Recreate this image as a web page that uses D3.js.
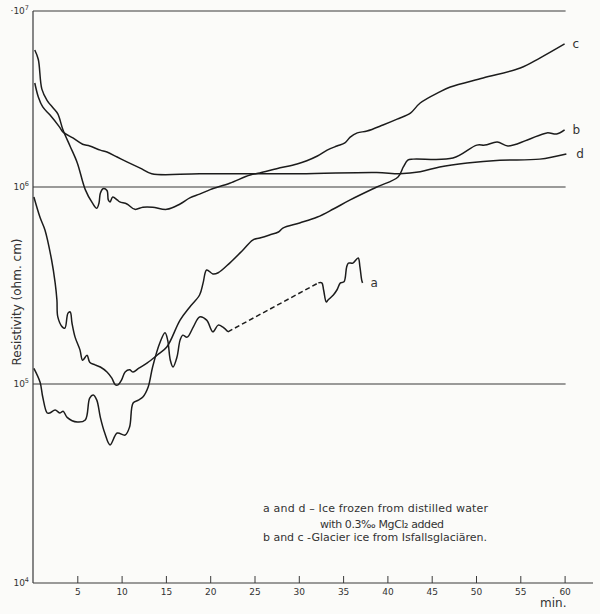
<!DOCTYPE html>
<html>
<head>
<meta charset="utf-8">
<script src="https://cdn.jsdelivr.net/npm/d3@7"></script>
<style>
  body { margin: 0; background: #fbfbf9; }
  svg { display: block; }
  text { font-family: "DejaVu Sans", sans-serif; fill: #333; }
</style>
</head>
<body>
<div class="chart"></div>
<script>
// Data (minutes, resistivity in ohm.cm)
const cMin = [0.2,0.6,1.0,1.6,2.3,2.8,3.4,4.2,5.0,5.9,6.7,7.2,7.45,7.6,7.9,8.35,8.5,8.7,9.0,9.5,9.8,10.6,11.5,12.4,13.5,15.1,16.6,17.7,18.8,20.0,22.2,24.5,25.6,27.5,29.8,30.9,32.1,33.2,34.3,35.2,35.8,36.6,37.7,39.5,41.1,42.6,43.7,45.9,47.1,50.8,55.0,57.2,60.0];
const cVal = [6.0e6,5.3e6,3.6e6,3.1e6,2.8e6,2.6e6,2.1e6,1.7e6,1.37e6,9.7e5,8.3e5,7.8e5,8.3e5,9.3e5,9.8e5,9.6e5,8.6e5,8.4e5,8.9e5,8.6e5,8.4e5,8.2e5,7.7e5,7.9e5,7.9e5,7.7e5,8.2e5,8.8e5,9.2e5,9.7e5,1.05e6,1.17e6,1.2e6,1.27e6,1.35e6,1.41e6,1.5e6,1.62e6,1.71e6,1.78e6,1.92e6,2.03e6,2.08e6,2.25e6,2.43e6,2.63e6,3.0e6,3.47e6,3.7e6,4.16e6,4.74e6,5.4e6,6.5e6];

const dMin = [0.2,0.6,1.1,1.9,3.0,3.4,4.5,5.6,6.4,7.6,8.35,9.5,10.6,12.1,13.4,18.8,30.1,38.8,41.4,43.7,45.9,49.0,52.7,57.2,60.2];
const dVal = [3.9e6,3.25e6,2.85e6,2.57e6,2.19e6,2.05e6,1.9e6,1.75e6,1.71e6,1.62e6,1.58e6,1.48e6,1.39e6,1.28e6,1.19e6,1.19e6,1.19e6,1.21e6,1.19e6,1.22e6,1.3e6,1.37e6,1.42e6,1.44e6,1.54e6];

const bMin = [0.1,0.8,1.35,2.1,2.5,2.7,2.8,3.3,3.6,3.95,4.2,4.4,4.75,5.3,5.6,6.1,6.4,7.0,7.6,8.35,8.9,9.3,9.6,10.0,10.4,10.9,11.3,11.9,12.9,14.0,15.1,16.6,17.7,18.8,19.2,19.6,20.3,20.9,22.2,23.7,24.8,25.6,26.7,27.7,28.2,30.1,32.1,33.9,35.8,38.8,41.2,41.8,42.3,42.9,47.4,50.1,51.0,52.4,53.6,55.8,58.0,59.1,60.0];
const bVal = [8.9e5,7.0e5,6.05e5,4.26e5,3.26e5,2.67e5,2.19e5,1.95e5,1.92e5,2.29e5,2.32e5,2.04e5,1.73e5,1.49e5,1.32e5,1.4e5,1.29e5,1.25e5,1.22e5,1.15e5,1.07e5,9.9e4,9.9e4,1.05e5,1.15e5,1.18e5,1.15e5,1.2e5,1.28e5,1.4e5,1.54e5,2.11e5,2.46e5,2.83e5,3.26e5,3.79e5,3.62e5,3.67e5,4.11e5,4.79e5,5.38e5,5.51e5,5.71e5,5.91e5,6.19e5,6.57e5,7.04e5,7.73e5,8.6e5,1.0e6,1.14e6,1.3e6,1.42e6,1.44e6,1.46e6,1.73e6,1.73e6,1.8e6,1.71e6,1.85e6,2.03e6,2.0e6,2.11e6];

const aMin = [0.1,0.8,1.1,1.6,1.9,2.5,3.05,3.4,3.85,5.0,5.9,6.4,6.8,7.2,7.6,8.1,8.7,9.5,10.4,10.9,11.3,11.9,12.4,13.0,13.5,14.3,14.9,15.2,15.5,15.8,16.25,16.6,16.9,17.4,18.1,18.8,19.6,20.3,20.9,21.4,22.0];
const aVal = [1.2e5,1.02e5,8.6e4,7.15e4,7.15e4,7.4e4,7.15e4,7.3e4,6.8e4,6.44e4,6.6e4,8.5e4,8.8e4,8.3e4,6.8e4,5.67e4,4.94e4,5.67e4,5.54e4,6.08e4,8.03e4,8.3e4,8.6e4,9.66e4,1.22e5,1.61e5,1.82e5,1.67e5,1.32e5,1.22e5,1.37e5,1.67e5,1.77e5,1.73e5,1.95e5,2.19e5,2.11e5,1.84e5,1.99e5,1.95e5,1.84e5];
// dashed gap of curve a
const aGapMin = [22.0, 32.2];
const aGapVal = [1.84e5, 3.26e5];
const a2Min = [32.2,32.6,32.8,33.1,33.3,33.9,34.3,34.7,35.1,35.4,35.6,36.1,36.7,36.9,37.1,37.2];
const a2Val = [3.26e5,3.26e5,3.0e5,2.61e5,2.67e5,2.83e5,3.0e5,3.26e5,3.3e5,3.93e5,4.11e5,4.11e5,4.36e5,3.93e5,3.37e5,3.26e5];

const xTicks = [5,10,15,20,25,30,35,40,45,50,55,60];
const decades = [1e4, 1e5, 1e6, 1e7];
const decadeExp = ["4", "5", "6", "7"];

const legendLines = [
    "a and d \u2013 Ice frozen from  distilled water",
    "with 0.3\u2030 MgCl\u2082 added",
    "b and c -Glacier ice from Isfallsglaci\u00e4ren."
];

const width = 600, height = 614;

const svg = d3.select(".chart").append("svg")
    .attr("width", width)
    .attr("height", height);

// scales: the hand-drawn decades are not quite equal, so piecewise log
const x = d3.scaleLinear().domain([0, 60]).range([33, 564.6]);
const y = d3.scaleLog().domain(decades).range([583, 384, 187, 11]);

// horizontal decade lines
svg.selectAll(".grid")
    .data(decades.slice(1))
    .enter()
    .append("line")
    .attr("x1", x(0)).attr("x2", x(60) + 1)
    .attr("y1", d => y(d)).attr("y2", d => y(d))
    .attr("stroke", "#3a3a3a")
    .attr("stroke-width", 1.2);

// y axis line
svg.append("line")
    .attr("x1", x(0)).attr("x2", x(0))
    .attr("y1", y(1e7)).attr("y2", y(1e4))
    .attr("stroke", "#3a3a3a").attr("stroke-width", 1.2);

// x axis
const xAxis = d3.axisBottom(x)
    .tickValues(xTicks)
    .tickSizeInner(-7)
    .tickSizeOuter(0)
    .tickPadding(6);

const gx = svg.append("g")
    .attr("transform", `translate(0, ${y(1e4)})`)
    .call(xAxis);
gx.select(".domain").remove();
gx.selectAll(".tick line").attr("stroke", "#3a3a3a").attr("stroke-width", 1);
gx.selectAll(".tick text")
    .attr("fill", "#444")
    .style("font-family", "DejaVu Sans, sans-serif")
    .style("font-size", "9px");
gx.append("line")
    .attr("x1", x(0)).attr("x2", 593)
    .attr("y1", 0).attr("y2", 0)
    .attr("stroke", "#3a3a3a").attr("stroke-width", 1.2);

svg.append("text")
    .attr("x", 540).attr("y", 607)
    .style("font-size", "12px")
    .text("min.");

// y decade labels
const yl = svg.selectAll(".ylab")
    .data(decades)
    .enter()
    .append("text")
    .attr("class", "ylab")
    .attr("x", 29)
    .attr("y", d => y(d) + 3)
    .attr("text-anchor", "end")
    .style("font-size", "9px")
    .attr("fill", "#444");
yl.append("tspan").text((d, i) => (i === 3 ? "\u00b710" : "10"));
yl.append("tspan")
    .attr("dy", -4)
    .style("font-size", "6.5px")
    .text((d, i) => decadeExp[i]);

svg.append("text")
    .attr("transform", `translate(21, 302) rotate(-90)`)
    .attr("text-anchor", "middle")
    .style("font-size", "12px")
    .text("Resistivity (ohm. cm)");

// curves
const line = d3.line()
    .x(d => x(d[0]))
    .y(d => y(d[1]))
    .curve(d3.curveCatmullRom.alpha(0.5));

const series = [
    { name: "c", pts: d3.zip(cMin, cVal), dash: null },
    { name: "d", pts: d3.zip(dMin, dVal), dash: null },
    { name: "b", pts: d3.zip(bMin, bVal), dash: null },
    { name: "a", pts: d3.zip(aMin, aVal), dash: null },
    { name: "a gap", pts: d3.zip(aGapMin, aGapVal), dash: "5,3" },
    { name: "a end", pts: d3.zip(a2Min, a2Val), dash: null }
];

svg.selectAll(".curve")
    .data(series)
    .enter()
    .append("path")
    .attr("class", "curve")
    .attr("d", d => line(d.pts))
    .attr("fill", "none")
    .attr("stroke", "#1c1c1c")
    .attr("stroke-width", 1.5)
    .attr("stroke-dasharray", d => d.dash);

// curve labels next to their last points
const endLabels = [
    { t: "c", m: cMin[cMin.length - 1], v: cVal[cVal.length - 1], dx: 8 },
    { t: "b", m: bMin[bMin.length - 1], v: bVal[bVal.length - 1], dx: 8 },
    { t: "d", m: dMin[dMin.length - 1], v: dVal[dVal.length - 1], dx: 10 },
    { t: "a", m: a2Min[a2Min.length - 1], v: a2Val[a2Val.length - 1], dx: 8 }
];
svg.selectAll(".clab")
    .data(endLabels)
    .enter()
    .append("text")
    .attr("x", d => x(d.m) + d.dx)
    .attr("y", d => y(d.v) + 4)
    .style("font-size", "12px")
    .text(d => d.t);

// legend note
svg.selectAll(".note")
    .data(legendLines)
    .enter()
    .append("text")
    .attr("x", (d, i) => (i === 1 ? 320 : 263))
    .attr("y", (d, i) => [512, 528, 541][i])
    .attr("textLength", (d, i) => [225, 124, 224][i])
    .attr("lengthAdjust", "spacing")
    .style("font-size", "11px")
    .text(d => d);
</script>
</body>
</html>
